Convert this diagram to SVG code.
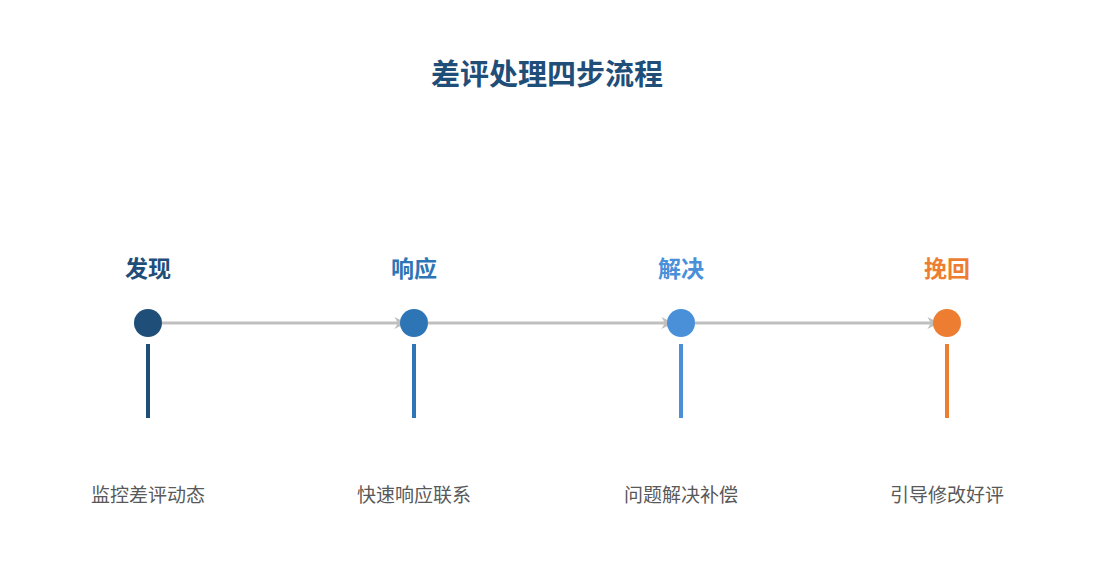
<svg xmlns="http://www.w3.org/2000/svg" width="1095" height="585" viewBox="0 0 1095 585">
<style>
text{font-family:"Noto Sans CJK SC","Liberation Sans",sans-serif;text-anchor:middle}
.title{font-size:29px;font-weight:bold;fill:#1f4e79}
.lbl{font-size:23px;font-weight:bold}
.desc{font-size:19px;fill:#595959}
.conn{stroke:#bfbfbf;stroke-width:3;fill:none;marker-end:url(#arr)}
</style>
<defs>
<marker id="arr" viewBox="0 0 10 10" refX="8" refY="5" markerWidth="4" markerHeight="4" orient="auto" markerUnits="strokeWidth">
<path d="M0,0 L10,5 L0,10 L3,5 Z" fill="#bfbfbf"/>
</marker>
</defs>
<rect width="1095" height="585" fill="#ffffff"/>
<text class="title" x="547" y="85">差评处理四步流程</text>
<g id="connectors">
<line class="conn" x1="162" y1="323" x2="404" y2="323"/>
<line class="conn" x1="428" y1="323" x2="671" y2="323"/>
<line class="conn" x1="695" y1="323" x2="937" y2="323"/>
</g>
<g id="step1">
<text class="lbl" x="148" y="277" fill="#1f4e79">发现</text>
<circle cx="148" cy="323" r="14" fill="#1f4e79"/>
<line x1="148" y1="344" x2="148" y2="418" stroke="#1f4e79" stroke-width="4"/>
<text class="desc" x="148" y="502">监控差评动态</text>
</g>
<g id="step2">
<text class="lbl" x="414" y="277" fill="#2e75b6">响应</text>
<circle cx="414" cy="323" r="14" fill="#2e75b6"/>
<line x1="414" y1="344" x2="414" y2="418" stroke="#2e75b6" stroke-width="4"/>
<text class="desc" x="414" y="502">快速响应联系</text>
</g>
<g id="step3">
<text class="lbl" x="681" y="277" fill="#4a90d9">解决</text>
<circle cx="681" cy="323" r="14" fill="#4a90d9"/>
<line x1="681" y1="344" x2="681" y2="418" stroke="#4a90d9" stroke-width="4"/>
<text class="desc" x="681" y="502">问题解决补偿</text>
</g>
<g id="step4">
<text class="lbl" x="947" y="277" fill="#ed7d31">挽回</text>
<circle cx="947" cy="323" r="14" fill="#ed7d31"/>
<line x1="947" y1="344" x2="947" y2="418" stroke="#ed7d31" stroke-width="4"/>
<text class="desc" x="947" y="502">引导修改好评</text>
</g>
</svg>
